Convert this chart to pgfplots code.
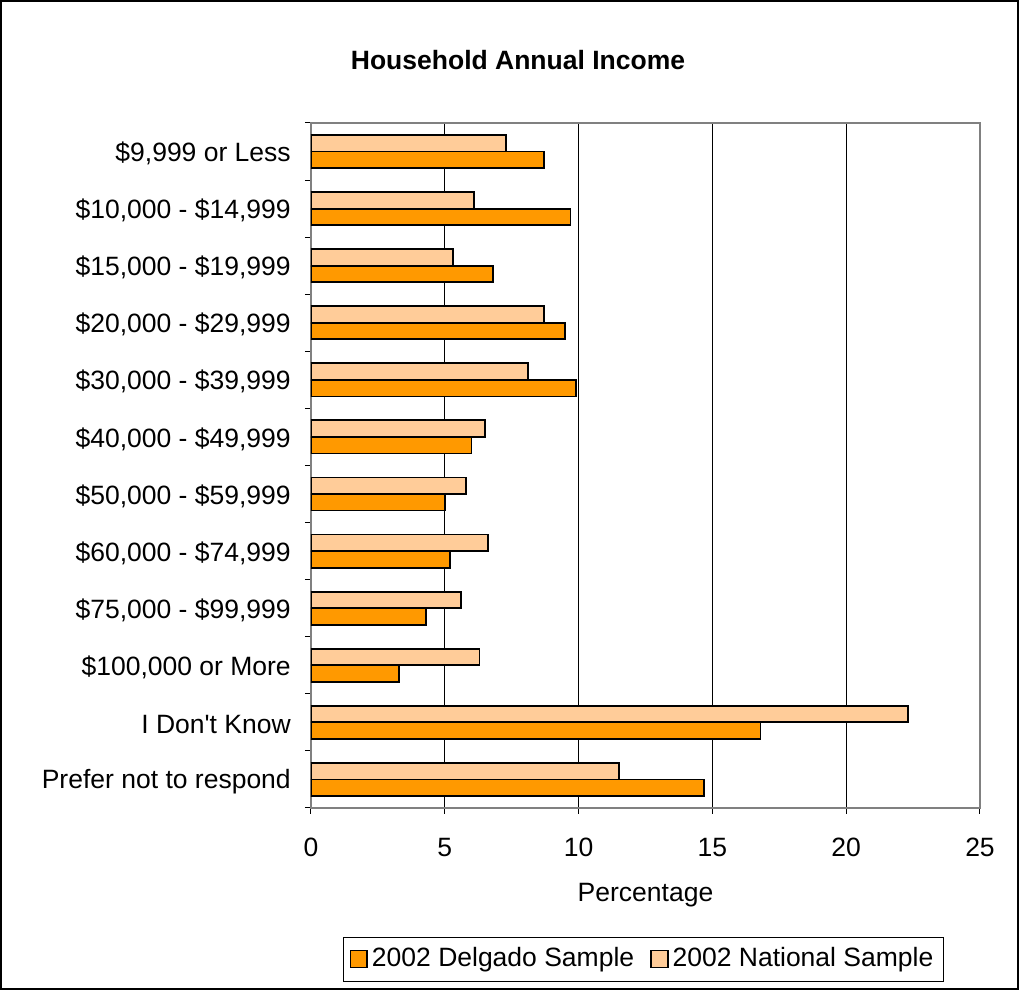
\documentclass[border=0pt]{standalone}
\usepackage{fontspec}
\setmainfont{Liberation Sans}
\usepackage{pgfplots}
\pgfplotsset{compat=1.18}
\definecolor{delg}{HTML}{FF9900}
\definecolor{natl}{HTML}{FFCC99}
\begin{document}
\fontsize{13.25}{15.9}\selectfont
\begin{tikzpicture}[font=\fontsize{13.25}{15.9}\selectfont]
\useasboundingbox (-155.5pt,-91pt) rectangle (354pt,404pt);
\draw[black, line width=0.75pt] (-155.1pt,-90.6pt) rectangle (353.6pt,403.6pt);
\begin{axis}[
  scale only axis, width=334.5pt, height=342.5pt,
  xmin=0, xmax=25, ymin=-0.5, ymax=11.5,
  xtick={0,5,10,15,20,25},
  ytick={-0.5,0.5,1.5,2.5,3.5,4.5,5.5,6.5,7.5,8.5,9.5,10.5,11.5},
  yticklabels={Prefer not to respond, {I Don\textquotesingle t Know}, {\$100,000 or More}, {\$75,000 - \$99,999}, {\$60,000 - \$74,999}, {\$50,000 - \$59,999}, {\$40,000 - \$49,999}, {\$30,000 - \$39,999}, {\$20,000 - \$29,999}, {\$15,000 - \$19,999}, {\$10,000 - \$14,999}, {\$9,999 or Less}, {}},
  yticklabel style={anchor=east, yshift=13.3pt, xshift=-2.5pt},
  xticklabel style={anchor=north, yshift=-7.5pt},
  /pgf/number format/assume math mode=true,
  tick align=outside, major tick length=3pt, tick pos=left,
  tick style={black, line width=0.5pt},
  axis line style={draw=gray, line width=0.75pt},
  xmajorgrids=true,
  grid style={black, line width=0.5pt},
  xlabel={Percentage},
  xlabel style={at={(axis description cs:0.5,0)}, anchor=center, yshift=-43.5pt},
  legend style={at={(0.497,-0.2205)}, anchor=center, legend columns=2, draw=black, line width=0.5pt,
    inner xsep=3pt, inner ysep=3.2pt,
    /tikz/every even column/.append style={column sep=6pt},
    font=\fontsize{13.25}{15.9}\selectfont},
  legend image code/.code={\draw[#1, line width=0.8pt] (0pt,-4.2pt) rectangle (8.4pt,4.2pt);},
]
\addplot[xbar, bar width=0.29, bar shift=-0.145, fill=delg, draw=black, line width=0.9pt]
  coordinates {(14.7,0) (16.8,1) (3.3,2) (4.3,3) (5.2,4) (5.0,5) (6.0,6) (9.9,7) (9.5,8) (6.8,9) (9.7,10) (8.7,11)};
\addlegendentry{2002 Delgado Sample}
\addplot[xbar, bar width=0.29, bar shift=0.145, fill=natl, draw=black, line width=0.9pt]
  coordinates {(11.5,0) (22.3,1) (6.3,2) (5.6,3) (6.6,4) (5.8,5) (6.5,6) (8.1,7) (8.7,8) (5.3,9) (6.1,10) (7.3,11)};
\addlegendentry{2002 National Sample}
\end{axis}
\node[font=\fontsize{13.25}{15.9}\selectfont\bfseries] at (103.5pt,374pt) {Household Annual Income};
\end{tikzpicture}
\end{document}
